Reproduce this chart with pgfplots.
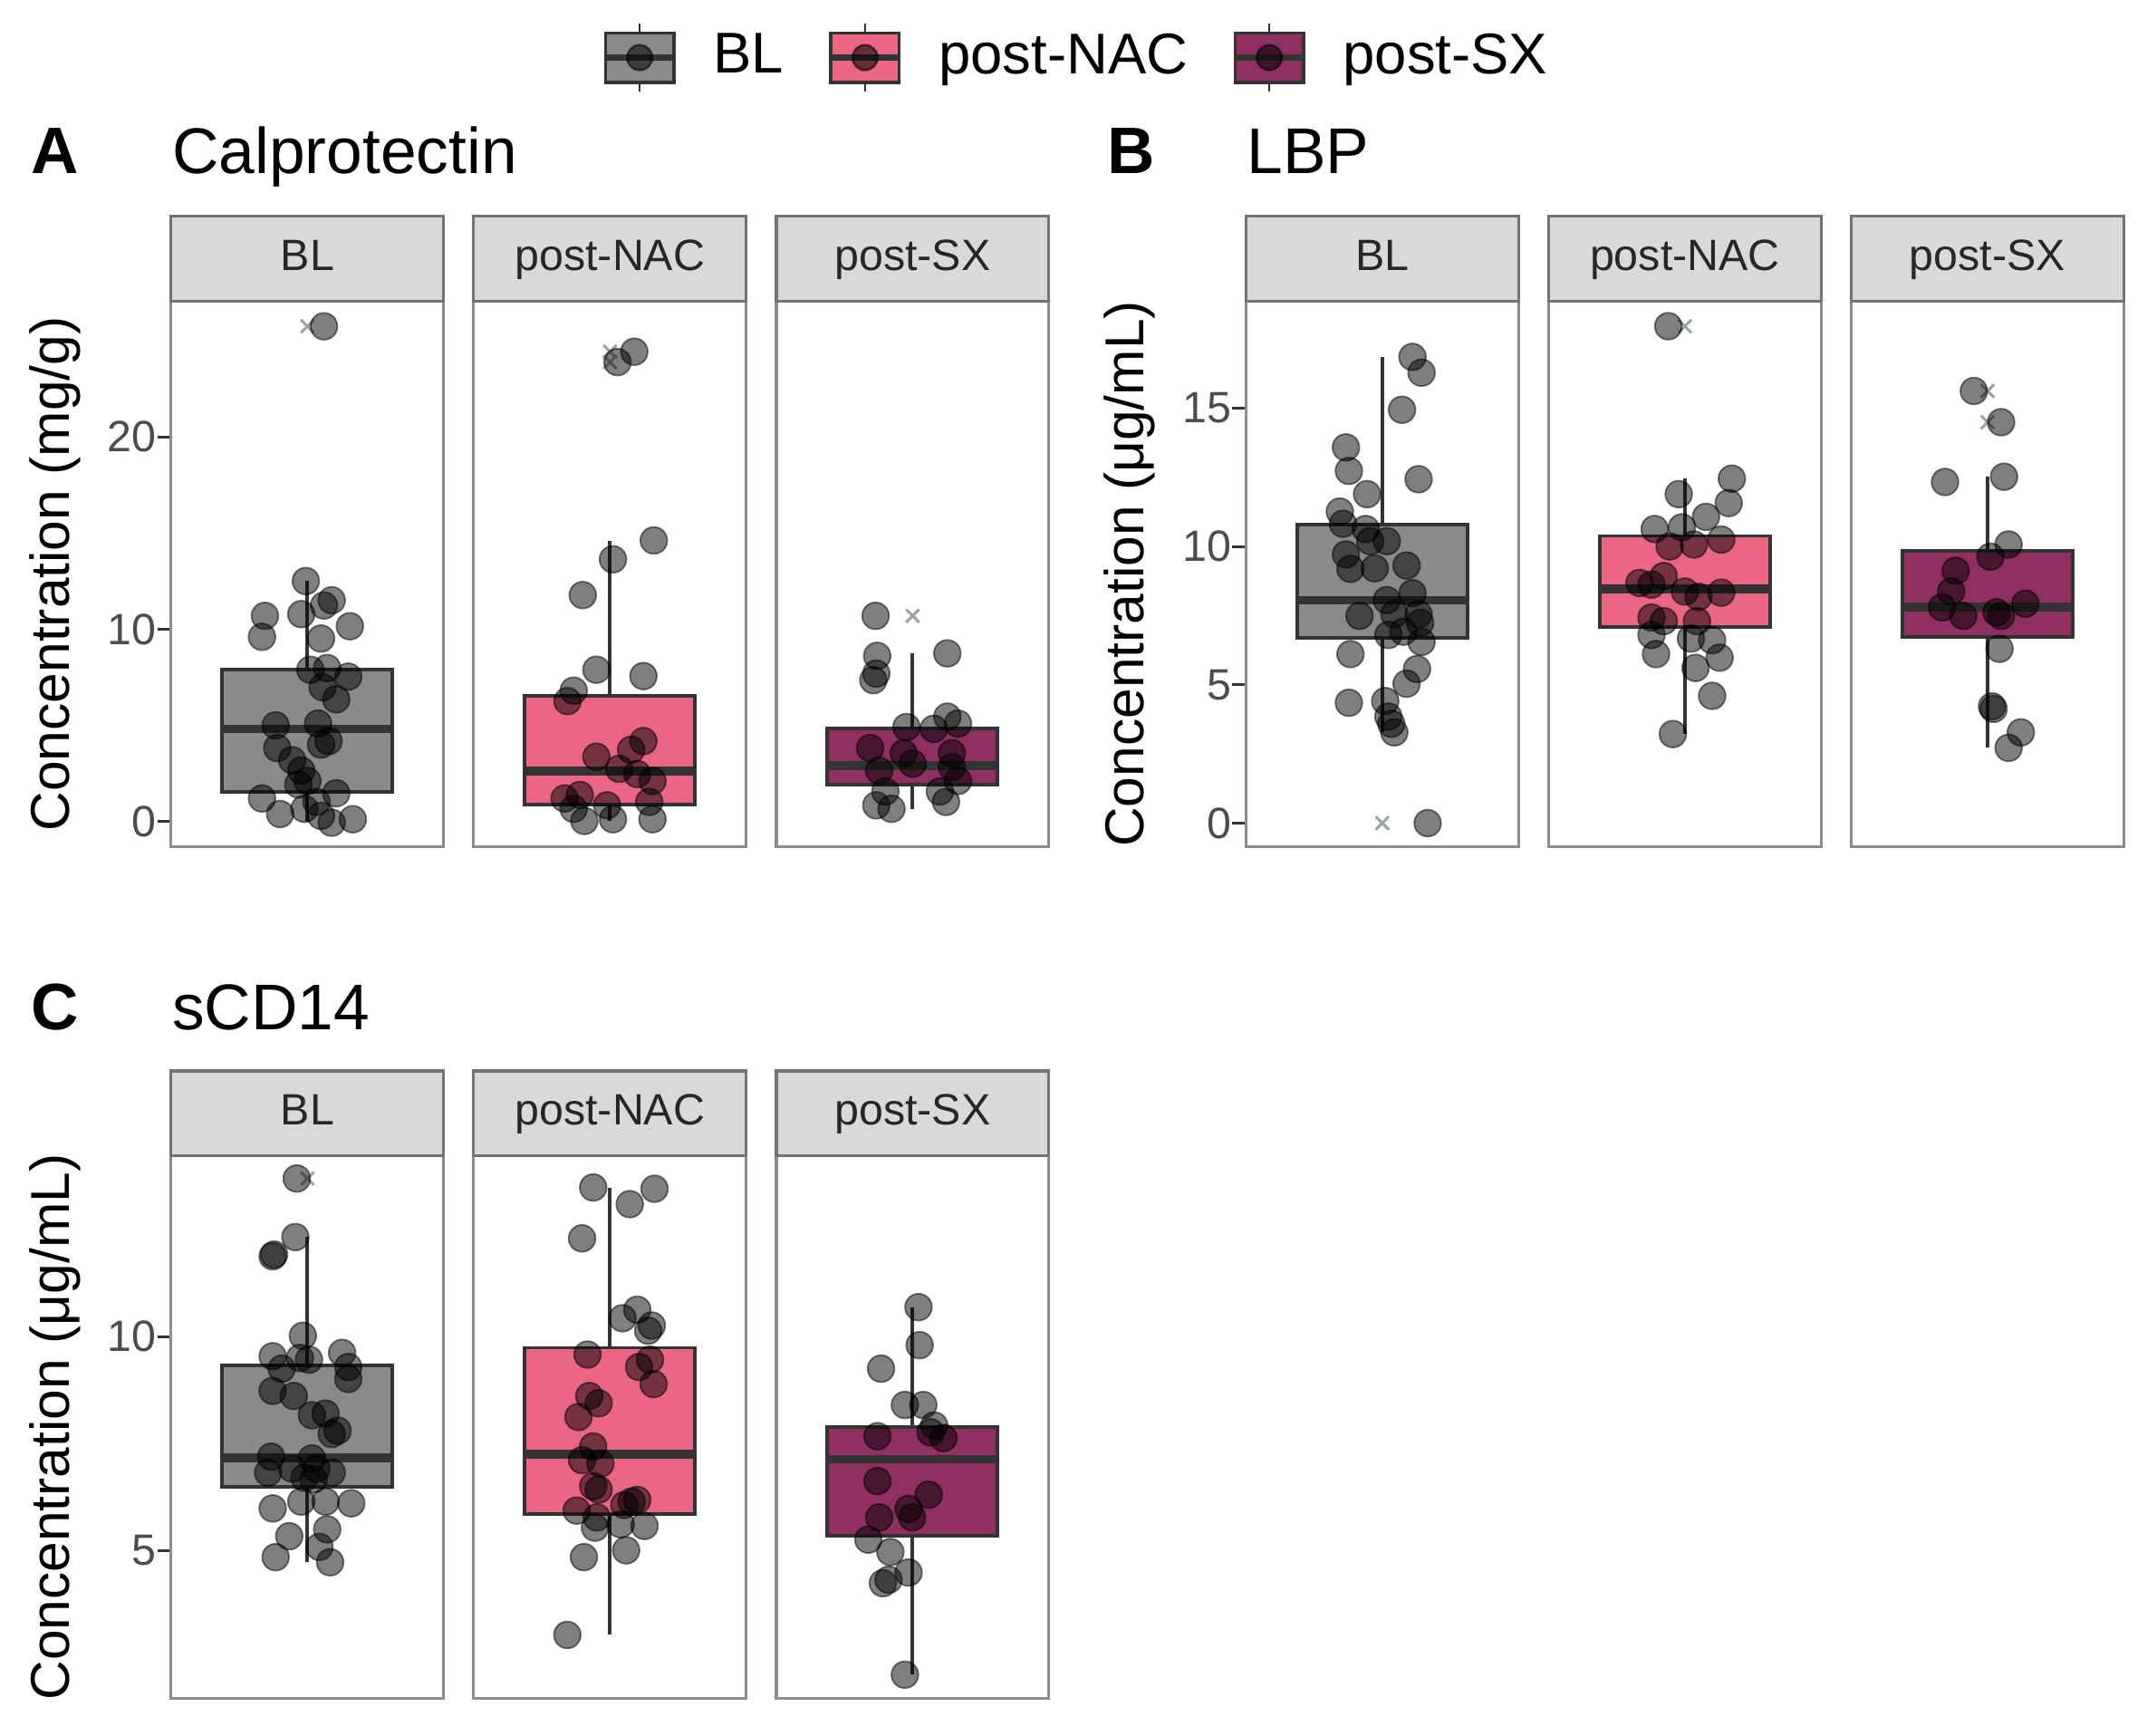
\documentclass[border=0pt]{standalone}
\usepackage{fontspec}
\setmainfont{Liberation Sans}
\usepackage{pgfplots}
\pgfplotsset{compat=1.18}
\usepgfplotslibrary{statistics}

\definecolor{blgray}{HTML}{8A8A8A}
\definecolor{nacpink}{HTML}{EB6683}
\definecolor{sxplum}{HTML}{8F2F62}
\definecolor{stripfill}{HTML}{D9D9D9}
\definecolor{outx}{HTML}{9DA4A8}

\pgfplotsset{
  facet/.style={
    scale only axis, width=49.75pt, height=99.5pt,
    xmin=0.4, xmax=1.6, xtick=\empty,
    ytick pos=left, tick align=outside, major tick length=2.5pt,
    axis line style={draw=black!45, line width=0.5pt},
    tick style={draw=black!80, line width=0.5pt},
    yticklabel style={font=\fontsize{8}{9.6}\selectfont, text=black!70, inner sep=0pt},
    /pgf/number format/assume math mode=true,
    every axis title shift=0pt,
    title style={at={(0.5,1)}, anchor=south, draw=black!55, line width=0.5pt,
      fill=stripfill, minimum width=49.75pt, minimum height=15.5pt,
      inner sep=0pt, outer sep=0pt, text height=6pt, text depth=1.7pt,
      font=\fontsize{8}{9.6}\selectfont, text=black!85},
    ylabel style={at={(axis description cs:-0.427,0.5)}, anchor=center,
      font=\fontsize{10}{12}\selectfont},
    boxplot/draw direction=y,
    boxplot/box extend=0.75, boxplot/whisker extend=0,
    boxplot/every median/.style={line width=1.6pt},
  },
  inner/.style={ytick=\empty},
  bx/.style={boxplot prepared={draw position=1, #1}, boxplot/draw direction=y,
    draw=black!80, line width=0.65pt, solid, forget plot},
  pts/.style={only marks, mark=*, mark size=2.45pt, forget plot,
    mark options={fill=black, draw=black, fill opacity=0.5, draw opacity=0.5, line width=0.3pt}},
  outl/.style={only marks, mark=x, mark size=1.7pt, forget plot,
    mark options={draw=outx, line width=0.5pt}},
  ggkey/.style={legend image code/.code={
    \draw[black!80, line width=0.4pt] (6.25pt,-6.25pt) -- (6.25pt,6.25pt);
    \draw[draw=black!80, fill=#1, line width=0.6pt] (0pt,-4.5pt) rectangle (12.5pt,4.5pt);
    \draw[black!80, line width=1.2pt] (0pt,0pt) -- (12.5pt,0pt);
    \fill[black, opacity=0.55] (6.25pt,0pt) circle (2.3pt);
  }},
}

\begin{document}
\begin{tikzpicture}
\path[use as bounding box] (0pt,0pt) rectangle (392pt,-316.75pt);

% panel tags and titles
\node[anchor=base west, inner sep=0pt, font=\fontsize{12}{14}\selectfont\bfseries] at (5.5pt,-31.75pt) {A};
\node[anchor=base west, inner sep=0pt, font=\fontsize{11.8}{14}\selectfont] at (31.25pt,-31.75pt) {Calprotectin};
\node[anchor=base west, inner sep=0pt, font=\fontsize{12}{14}\selectfont\bfseries] at (202pt,-31.75pt) {B};
\node[anchor=base west, inner sep=0pt, font=\fontsize{11.8}{14}\selectfont] at (227.5pt,-31.75pt) {LBP};
\node[anchor=base west, inner sep=0pt, font=\fontsize{12}{14}\selectfont\bfseries] at (5.5pt,-188pt) {C};
\node[anchor=base west, inner sep=0pt, font=\fontsize{11.8}{14}\selectfont] at (31.25pt,-188pt) {sCD14};

% ---------- A: Calprotectin ----------
\begin{axis}[facet, at={(31.25pt,-55pt)}, anchor=north west,
  ymin=-1.28, ymax=27.05, ytick={0,10,20}, title={BL},
  ylabel={Concentration (mg/g)},
  legend columns=3,
  legend style={at={(axis description cs:3.3166,1.4472)}, anchor=center,
    draw=none, fill=none, font=\fontsize{10.5}{12.6}\selectfont,
    nodes={inner sep=0pt},
    /tikz/every odd column/.append style={column sep=6.6pt},
    /tikz/every even column/.append style={column sep=8pt}}]
\addplot[bx={lower whisker=0, lower quartile=1.57, median=4.83, upper quartile=7.93, upper whisker=12.5}, fill=blgray] coordinates {};
\addplot[outl] coordinates {(1,25.75)};
\addplot[pts] table {
x y
1.073 25.75
0.993 12.51
1.073 11.24
1.107 11.51
0.813 10.70
0.800 9.61
0.973 10.79
1.187 10.16
1.060 9.52
1.013 7.90
1.087 7.99
1.180 7.54
1.067 6.99
1.127 6.36
0.860 5.01
1.047 5.10
0.867 3.83
1.060 4.01
1.093 4.19
0.933 3.20
0.973 2.66
0.960 1.94
0.800 1.21
1.127 1.48
0.880 0.40
0.987 0.67
1.060 0.31
1.107 -0.05
1.200 0.13
1.040 1.03
1.000 2.12
};
\addlegendimage{ggkey=blgray}
\addlegendentry{BL}
\addlegendimage{ggkey=nacpink}
\addlegendentry{post-NAC}
\addlegendimage{ggkey=sxplum}
\addlegendentry{post-SX}
\end{axis}

\begin{axis}[facet, inner, at={(86.5pt,-55pt)}, anchor=north west,
  ymin=-1.28, ymax=27.05, title={post-NAC}]
\addplot[bx={lower whisker=0.04, lower quartile=0.89, median=2.62, upper quartile=6.54, upper whisker=14.6}, fill=nacpink] coordinates {};
\addplot[outl] coordinates {(1,24.43) (1,23.89)};
\addplot[pts] table {
x y
1.107 24.43
1.033 23.89
1.193 14.62
1.013 13.64
0.880 11.78
0.940 7.90
1.147 7.57
0.840 6.81
0.813 6.27
0.940 3.38
1.147 4.19
1.093 3.74
1.040 2.75
1.187 2.12
0.800 1.21
0.867 1.39
0.840 0.67
0.887 0.04
1.013 0.13
1.187 0.13
1.173 1.03
1.120 2.48
0.987 0.85
};
\end{axis}

\begin{axis}[facet, inner, at={(141.75pt,-55pt)}, anchor=north west,
  ymin=-1.28, ymax=27.05, title={post-SX}]
\addplot[bx={lower whisker=0.67, lower quartile=1.94, median=2.93, upper quartile=4.86, upper whisker=8.75}, fill=sxplum] coordinates {};
\addplot[outl] coordinates {(1,10.7)};
\addplot[pts] table {
x y
0.837 10.70
0.844 8.62
0.840 7.70
0.827 7.36
1.153 8.75
1.153 5.46
1.200 5.10
0.973 4.92
0.813 3.83
0.960 3.56
1.093 4.83
0.853 2.66
1.173 2.84
1.200 2.12
1.120 1.57
0.880 1.57
0.840 0.85
0.907 0.67
1.147 1.03
1.000 3.02
1.173 3.56
};
\end{axis}

% ---------- B: LBP ----------
\begin{axis}[facet, at={(227.5pt,-55pt)}, anchor=north west,
  ymin=-0.84, ymax=18.86, ytick={0,5,10,15}, title={BL},
  ylabel={Concentration (μg/mL)}]
\addplot[bx={lower whisker=3.28, lower quartile=6.7, median=8.06, upper quartile=10.78, upper whisker=16.85}, fill=blgray] coordinates {};
\addplot[outl] coordinates {(1,0)};
\addplot[pts] table {
x y
1.133 16.85
1.173 16.28
1.087 14.94
0.840 13.58
0.853 12.73
1.160 12.43
0.933 11.89
0.813 11.26
0.827 10.82
0.927 10.63
1.020 10.19
0.840 9.71
0.860 9.19
0.967 9.21
1.107 9.31
1.133 8.31
1.020 8.06
0.900 7.49
1.160 7.55
1.027 6.80
1.093 6.92
1.173 6.55
1.167 7.24
0.860 6.11
1.153 5.57
1.107 5.04
0.853 4.35
1.013 4.41
1.027 3.85
1.040 3.59
1.053 3.28
1.200 0.00
0.947 10.19
1.053 7.55
};
\end{axis}

\begin{axis}[facet, inner, at={(282.75pt,-55pt)}, anchor=north west,
  ymin=-0.84, ymax=18.86, title={post-NAC}]
\addplot[bx={lower whisker=3.22, lower quartile=7.08, median=8.46, upper quartile=10.38, upper whisker=12.45}, fill=nacpink] coordinates {};
\addplot[outl] coordinates {(1,17.96)};
\addplot[pts] table {
x y
0.927 17.96
1.207 12.45
1.193 11.57
0.973 11.89
1.093 11.07
0.867 10.63
0.987 10.69
0.933 10.00
1.040 10.07
1.160 10.25
0.853 8.62
0.907 8.93
1.000 8.37
1.060 8.18
1.160 8.33
0.853 7.43
0.907 7.30
1.053 7.30
0.853 6.80
1.027 6.67
1.120 6.61
0.873 6.11
1.153 5.98
1.047 5.61
1.120 4.60
0.947 3.22
0.800 8.68
};
\end{axis}

\begin{axis}[facet, inner, at={(338pt,-55pt)}, anchor=north west,
  ymin=-0.84, ymax=18.86, title={post-SX}]
\addplot[bx={lower whisker=2.72, lower quartile=6.74, median=7.8, upper quartile=9.84, upper whisker=12.52}, fill=sxplum] coordinates {};
\addplot[outl] coordinates {(1,15.62) (1,14.49)};
\addplot[pts] table {
x y
0.940 15.62
1.060 14.49
0.813 12.33
1.073 12.52
1.093 10.07
1.013 9.63
0.860 9.12
0.840 8.37
0.800 7.80
0.893 7.49
1.040 7.62
1.060 7.49
1.167 7.93
1.053 6.30
1.020 4.22
1.027 4.13
1.147 3.28
1.093 2.72
};
\end{axis}

% ---------- C: sCD14 ----------
\begin{axis}[facet, height=99pt, at={(31.25pt,-211pt)}, anchor=north west,
  ymin=1.54, ymax=14.23, ytick={5,10}, title={BL},
  ylabel={Concentration (μg/mL)}]
\addplot[bx={lower whisker=4.72, lower quartile=6.48, median=7.17, upper quartile=9.33, upper whisker=12.33}, fill=blgray] coordinates {};
\addplot[outl] coordinates {(1,13.7)};
\addplot[pts] table {
x y
0.953 13.70
0.947 12.33
0.853 11.92
0.847 11.88
0.980 10.02
0.847 9.54
0.967 9.50
1.007 9.46
1.153 9.62
1.180 9.29
1.180 9.01
0.887 9.25
0.847 8.73
0.940 8.61
1.020 8.16
1.080 8.20
1.133 7.80
1.107 7.72
0.840 7.19
0.827 6.82
0.933 6.91
1.020 7.15
1.040 6.91
1.027 6.66
1.107 6.82
0.973 6.14
0.847 5.98
1.080 6.14
1.193 6.10
0.920 5.33
1.087 5.49
0.860 4.84
1.100 4.72
1.053 5.08
0.987 6.70
};
\end{axis}

\begin{axis}[facet, inner, height=99pt, at={(86.5pt,-211pt)}, anchor=north west,
  ymin=1.54, ymax=14.23, title={post-NAC}]
\addplot[bx={lower whisker=3.02, lower quartile=5.84, median=7.25, upper quartile=9.74, upper whisker=13.49}, fill=nacpink] coordinates {};
\addplot[pts] table {
x y
0.926 13.49
1.196 13.46
1.087 13.10
0.877 12.30
1.055 10.43
1.120 10.63
1.184 10.26
1.168 10.14
0.901 9.58
1.128 9.29
1.176 9.46
1.192 8.89
0.909 8.61
0.950 8.44
0.861 8.12
0.926 7.43
0.877 7.11
0.958 7.03
0.926 6.50
0.950 6.42
1.120 6.18
0.853 5.93
1.063 6.06
0.942 5.77
1.047 5.61
1.152 5.57
0.934 5.53
0.885 4.84
1.071 5.00
0.812 3.02
1.095 6.14
};
\end{axis}

\begin{axis}[facet, inner, height=99pt, at={(141.75pt,-211pt)}, anchor=north west,
  ymin=1.54, ymax=14.23, title={post-SX}]
\addplot[bx={lower whisker=2.09, lower quartile=5.35, median=7.13, upper quartile=7.89, upper whisker=10.69}, fill=sxplum] coordinates {};
\addplot[pts] table {
x y
1.026 10.69
1.031 9.80
0.861 9.25
0.966 8.40
1.047 8.40
1.095 7.92
0.845 7.67
1.079 7.76
1.136 7.63
0.845 6.62
1.071 6.30
0.853 5.77
0.982 5.97
0.998 5.77
0.805 5.25
0.902 4.96
0.982 4.48
0.869 4.23
0.894 4.31
0.966 2.09
};
\end{axis}
\end{tikzpicture}
\end{document}
